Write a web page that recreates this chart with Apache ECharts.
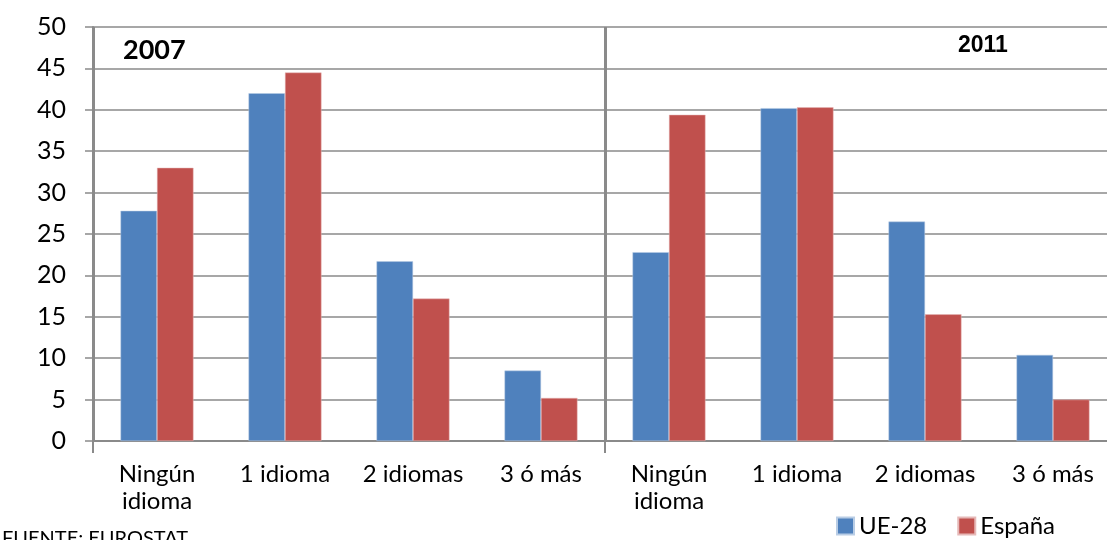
<!DOCTYPE html>
<html>
<head>
<meta charset="utf-8">
<script src="https://cdn.jsdelivr.net/npm/echarts@6/dist/echarts.min.js"></script>
<style>
  html, body { margin: 0; padding: 0; background: #fff; overflow: hidden; }
  #chart { width: 1117px; height: 540px; }
</style>
</head>
<body>
<div id="chart"></div>
<script>
// categories: 2007 group then 2011 group
var categories = [
  'Ningún\nidioma', '1 idioma', '2 idiomas', '3 ó más',
  'Ningún\nidioma', '1 idioma', '2 idiomas', '3 ó más'
];
var years = ['2007', '2011'];
var ue28 = [27.8, 42.0, 21.7, 8.5, 22.8, 40.2, 26.5, 10.4];
var espana = [33.0, 44.5, 17.2, 5.2, 39.4, 40.3, 15.3, 5.0];
var yTicks = [0, 5, 10, 15, 20, 25, 30, 35, 40, 45, 50];

var gridGray = '#8a8a8a';
var font = 'Lato';

var myChart = echarts.init(document.getElementById('chart'));

var option = {
  backgroundColor: '#fff',
  animation: false,
  grid: {
    left: 93,
    top: 27,
    bottom: 99,
    right: 0,
    containLabel: false
  },
  legend: {
    left: 831,
    top: 509,
    itemWidth: 17,
    itemHeight: 17,
    itemGap: 30,
    icon: 'rect',
    data: ['UE-28', 'España'],
    textStyle: {
      fontFamily: font,
      fontSize: 24,
      color: '#000'
    }
  },
  graphic: [
    {
      type: 'text',
      left: 123,
      top: 37,
      style: { text: years[0], fontFamily: font, fontWeight: 'bold', fontSize: 27, fill: '#000' }
    },
    {
      type: 'text',
      left: 958,
      top: 34,
      style: { text: years[1], fontFamily: 'Liberation Sans', fontWeight: 'bold', fontSize: 23, fill: '#000' }
    },
    {
      type: 'text',
      left: 2,
      top: 529,
      style: { text: 'FUENTE: EUROSTAT', fontFamily: font, fontSize: 20, fill: '#000' }
    }
  ],
  xAxis: [
    {
      type: 'category',
      data: categories,
      boundaryGap: true,
      axisLine: { show: true, lineStyle: { color: gridGray, width: 2 } },
      axisTick: { show: false },
      splitLine: { show: false },
      axisLabel: {
        interval: 0,
        margin: 20,
        fontFamily: font,
        fontSize: 24,
        lineHeight: 27,
        color: '#000'
      }
    },
    {
      // year groups: only used for the divider and group ticks
      type: 'category',
      data: years,
      position: 'bottom',
      boundaryGap: true,
      axisLine: { show: false },
      axisLabel: { show: false },
      axisTick: { show: true, length: 12, interval: 0, lineStyle: { color: gridGray, width: 2 } },
      splitLine: { show: true, interval: 0, lineStyle: { color: gridGray, width: 3 } }
    }
  ],
  yAxis: {
    type: 'value',
    min: yTicks[0],
    max: yTicks[yTicks.length - 1],
    interval: 5,
    axisLine: { show: true, lineStyle: { color: gridGray, width: 2 } },
    axisTick: { show: true, length: 8, lineStyle: { color: gridGray, width: 1.5 } },
    splitLine: { show: true, lineStyle: { color: gridGray, width: 1.5 } },
    axisLabel: {
      margin: 27,
      fontFamily: font,
      fontSize: 25,
      color: '#000'
    }
  },
  series: [
    {
      name: 'UE-28',
      type: 'bar',
      data: ue28,
      barGap: '0%',
      barCategoryGap: '43%',
      itemStyle: { color: '#4F81BD', borderColor: '#b9cde5', borderWidth: 0.5 }
    },
    {
      name: 'España',
      type: 'bar',
      data: espana,
      itemStyle: { color: '#C0504D', borderColor: '#e6b9b8', borderWidth: 0.5 }
    }
  ]
};

myChart.setOption(option);
</script>
</body>
</html>
